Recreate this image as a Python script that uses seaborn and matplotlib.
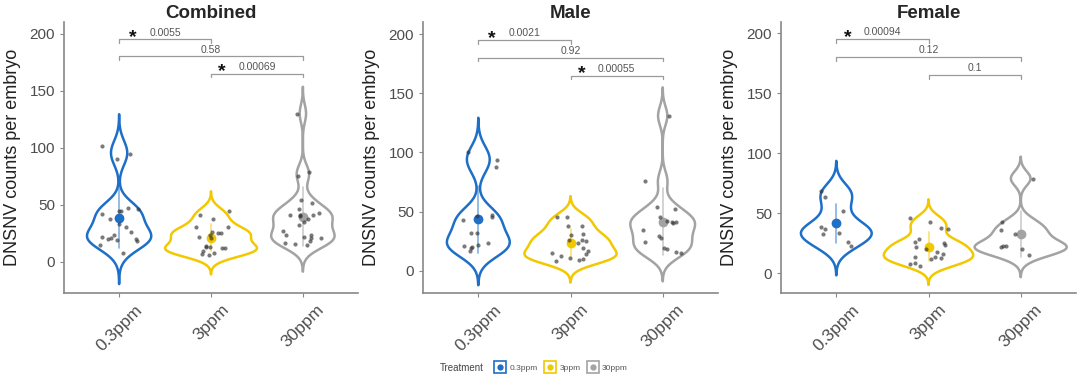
import numpy as np
import pandas as pd
import matplotlib.pyplot as plt
from matplotlib.lines import Line2D
import seaborn as sns

# Treatment groups and colours
treatments = ['0.3ppm', '3ppm', '30ppm']
colors = ['#1e6fc8', '#f2c800', '#a3a3a3']

# DNSNV counts per embryo
comb_03 = [102, 95, 90, 47, 46, 45, 45, 42, 38, 33, 31, 26, 24, 22, 21, 20, 20, 19, 18, 15, 8]
comb_3 = [45, 41, 38, 31, 31, 26, 25, 25, 24, 22, 21, 14, 13, 13, 12, 12, 10, 8, 7, 6]
comb_30 = [130, 79, 75, 54, 52, 46, 43, 41, 41, 41, 40, 38, 35, 32, 27, 24, 24, 22, 21, 21, 18, 17, 16, 15]

male_03 = [100, 94, 88, 47, 46, 45, 43, 32, 32, 23, 22, 21, 20, 19, 17]
male_3 = [45, 45, 38, 38, 31, 30, 26, 26, 25, 23, 19, 17, 15, 14, 12, 11, 10, 9, 8]
male_30 = [131, 76, 54, 52, 45, 42, 41, 41, 40, 34, 29, 28, 24, 19, 18, 16, 15]

fem_03 = [69, 64, 52, 39, 37, 34, 33, 26, 23]
fem_3 = [46, 43, 38, 37, 29, 26, 25, 24, 22, 20, 18, 16, 14, 14, 13, 12, 9, 8, 6]
fem_30 = [79, 43, 36, 33, 23, 23, 22, 20, 15]

# pairwise p-values: 0.3 vs 3, 0.3 vs 30, 3 vs 30
comb_p = ['0.0055', '0.58', '0.00069']
male_p = ['0.0021', '0.92', '0.00055']
fem_p = ['0.00094', '0.12', '0.1']

titles = ['Combined', 'Male', 'Female']
pairs = [(0, 1), (0, 2), (1, 2)]
bracket_y = [195, 180, 165]

panels = [
    (comb_03, comb_3, comb_30, comb_p),
    (male_03, male_3, male_30, male_p),
    (fem_03, fem_3, fem_30, fem_p),
]

# axes placement (pixels) and y limits per panel
ax_left = [64, 423, 781]
ax_width = [294, 295, 295]
ylims = [(-27.2, 210.2), (-18.9, 210.3), (-16.4, 209.4)]


def nrd0(kde):
    # R's default bandwidth (bw.nrd0), as a factor for scipy
    x = kde.dataset[0]
    sd = np.std(x, ddof=1)
    iqr = np.subtract(*np.percentile(x, [75, 25]))
    lo = min(sd, iqr / 1.34)
    return 0.9 * lo * len(x) ** -0.2 / sd


sns.set_style('ticks')
plt.rcParams['font.family'] = ['Liberation Sans', 'DejaVu Sans']

W, H = 1080, 382
fig = plt.figure(figsize=(W / 100, H / 100), dpi=100)
np.random.seed(7)

for k, (g03, g3, g30, pv) in enumerate(panels):
    df = pd.DataFrame({
        'Treatment': ['0.3ppm'] * len(g03) + ['3ppm'] * len(g3) + ['30ppm'] * len(g30),
        'Count': g03 + g3 + g30,
    })
    ax = fig.add_axes([ax_left[k] / W, (H - 293) / H, ax_width[k] / W, 271 / H])

    sns.violinplot(data=df, x='Treatment', y='Count', hue='Treatment', order=treatments,
                   hue_order=treatments, palette=colors, fill=False, inner=None, cut=3,
                   bw_method=nrd0, density_norm='area', common_norm=True, width=1.0,
                   linewidth=1.8, legend=False, ax=ax)
    sns.pointplot(data=df, x='Treatment', y='Count', hue='Treatment', order=treatments,
                  hue_order=treatments, palette=colors, errorbar='sd', linestyle='none',
                  markers='o', markersize=5, err_kws={'linewidth': 1.2, 'alpha': 0.55},
                  legend=False, ax=ax)
    sns.stripplot(data=df, x='Treatment', y='Count', order=treatments, color='#333333',
                  size=3.0, alpha=0.65, jitter=0.22, ax=ax)

    # significance brackets
    for (i, j), yb, p in zip(pairs, bracket_y, pv):
        ax.plot([i, i, j, j], [yb - 3, yb, yb, yb - 3], color='#9a9a9a', lw=0.9)
        txt = ax.text((i + j) / 2, yb + 1.5, p, ha='center', va='bottom', fontsize=7.5,
                      color='#555555')
        if float(p) < 0.05:
            ax.annotate('*', xy=(0, 0), xycoords=txt, xytext=(-9, -6),
                        textcoords='offset points', ha='right', va='bottom',
                        fontsize=14, fontweight='bold', color='#111111')

    ax.set_xlim(-0.6, 2.6)
    ax.set_ylim(*ylims[k])
    ax.set_yticks([0, 50, 100, 150, 200])
    ax.set_title(titles[k], fontsize=13.5, fontweight='bold', pad=2)
    ax.set_xlabel('')
    ax.set_ylabel('DNSNV counts per embryo', fontsize=13, labelpad=6, color='#222222')
    plt.setp(ax.get_xticklabels(), rotation=45, ha='center', fontsize=12.5, color='#4d4d4d')
    plt.setp(ax.get_yticklabels(), fontsize=11, color='#4d4d4d')
    ax.tick_params(length=3, color='#888888', width=0.8)
    sns.despine(ax=ax)
    for s in ['left', 'bottom']:
        ax.spines[s].set_color('#888888')
        ax.spines[s].set_linewidth(1.2)

# bottom legend
handles = [(Line2D([], [], marker='s', ms=9, mfc='white', mec=c, mew=1.2, ls=''),
            Line2D([], [], marker='o', ms=3.5, color=c, ls='')) for c in colors]
fig.text(440 / W, 1 - 368 / H, 'Treatment', fontsize=7, color='#444444', va='center')
fig.legend(handles, treatments, loc='center left', bbox_to_anchor=(496 / W, 1 - 368 / H),
           ncol=3, frameon=False, fontsize=6, labelcolor='#555555', handlelength=1.0,
           handletextpad=0.6, columnspacing=1.0, borderaxespad=0, borderpad=0)

fig.savefig('out.png', dpi=100)
